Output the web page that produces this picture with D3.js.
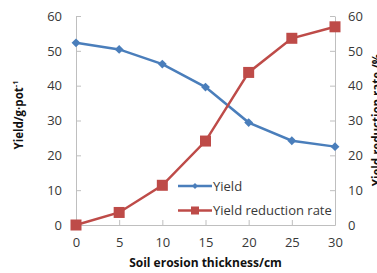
<!DOCTYPE html>
<html>
<head>
<meta charset="utf-8">
<script src="https://cdn.jsdelivr.net/npm/d3@7"></script>
<style>
  body { margin: 0; background: #fff; }
  svg { display: block; font-family: 'Open Sans', sans-serif; }
</style>
</head>
<body>
<svg width="377" height="273"></svg>
<script>
// data
const thickness = [0, 5, 10, 15, 20, 25, 30];
const yieldValues = [52.3, 50.4, 46.2, 39.6, 29.4, 24.2, 22.5];
const reductionRate = [0, 3.6, 11.4, 24.1, 43.8, 53.6, 56.9];
const yTicks = [0, 10, 20, 30, 40, 50, 60];

const svg = d3.select('svg');
const margin = { top: 16, right: 42, bottom: 48, left: 76 };
const width = +svg.attr('width');
const height = +svg.attr('height');
const innerWidth = width - margin.left - margin.right;
const innerHeight = height - margin.top - margin.bottom;

const axisColor = '#bfbfbf';
const textColor = '#383838';
const blue = '#4a7ebb';
const red = '#be4b48';

const g = svg.append('g').attr('transform', `translate(${margin.left},${margin.top})`);

const xScale = d3.scaleLinear().domain([0, 30]).range([0, innerWidth]);
const yLeft = d3.scaleLinear().domain([0, 60]).range([innerHeight, 0]);
const yRight = d3.scaleLinear().domain([0, 60]).range([innerHeight, 0]);

const styleAxis = (sel) => {
  sel.attr('font-family', null).attr('font-size', 13);
  sel.select('.domain').attr('stroke', axisColor).attr('stroke-width', 1);
  sel.selectAll('.tick line').attr('stroke', axisColor);
  sel.selectAll('.tick text').attr('fill', textColor);
};

// left axis, ticks drawn inward
g.append('g')
  .call(d3.axisLeft(yLeft).tickValues(yTicks).tickSizeInner(-5).tickSizeOuter(0).tickPadding(14))
  .call(styleAxis);

// right axis
g.append('g')
  .attr('transform', `translate(${innerWidth},0)`)
  .call(d3.axisRight(yRight).tickValues(yTicks).tickSizeInner(-5).tickSizeOuter(0).tickPadding(13))
  .call(styleAxis);

// bottom axis
g.append('g')
  .attr('transform', `translate(0,${innerHeight})`)
  .call(d3.axisBottom(xScale).tickValues(thickness).tickSizeInner(-5).tickSizeOuter(0).tickPadding(13))
  .call(styleAxis);

// axis titles
svg.append('text')
  .attr('x', margin.left + innerWidth / 2)
  .attr('y', 267)
  .attr('text-anchor', 'middle')
  .attr('font-size', 12)
  .attr('font-weight', 'bold')
  .attr('fill', '#111')
  .text('Soil erosion thickness/cm');

const leftTitle = svg.append('text')
  .attr('transform', 'translate(23,115) rotate(-90)')
  .attr('text-anchor', 'middle')
  .attr('font-size', 11.5)
  .attr('font-weight', 'bold')
  .attr('fill', '#111');
leftTitle.append('tspan').text('Yield/g·pot');
leftTitle.append('tspan').attr('font-size', 7.5).attr('dy', -5).text('-1');

svg.append('text')
  .attr('transform', 'translate(381,120) rotate(-90)')
  .attr('text-anchor', 'middle')
  .attr('font-size', 11.5)
  .attr('font-weight', 'bold')
  .attr('fill', '#111')
  .text('Yield reduction rate /%');

// lines
const yieldLine = d3.line()
  .x((d, i) => xScale(thickness[i]))
  .y((d) => yLeft(d));
const rateLine = d3.line()
  .x((d, i) => xScale(thickness[i]))
  .y((d) => yRight(d));

g.append('path')
  .datum(yieldValues)
  .attr('d', yieldLine)
  .attr('fill', 'none')
  .attr('stroke', blue)
  .attr('stroke-width', 2.5);

g.append('path')
  .datum(reductionRate)
  .attr('d', rateLine)
  .attr('fill', 'none')
  .attr('stroke', red)
  .attr('stroke-width', 2.5);

const diamond = d3.symbol().type(d3.symbolDiamond2).size(50);
const smallDiamond = d3.symbol().type(d3.symbolDiamond2).size(22);

g.selectAll('path.yield-marker')
  .data(yieldValues)
  .join('path')
  .attr('class', 'yield-marker')
  .attr('d', diamond)
  .attr('transform', (d, i) => `translate(${xScale(thickness[i])},${yLeft(d)})`)
  .attr('fill', blue);

const sq = 11;
g.selectAll('rect.rate-marker')
  .data(reductionRate)
  .join('rect')
  .attr('class', 'rate-marker')
  .attr('x', (d, i) => xScale(thickness[i]) - sq / 2)
  .attr('y', (d) => yRight(d) - sq / 2)
  .attr('width', sq)
  .attr('height', sq)
  .attr('fill', red);

// legend
const legendItems = [
  { label: 'Yield', color: blue, shape: 'diamond' },
  { label: 'Yield reduction rate', color: red, shape: 'square' }
];

const legend = svg.append('g').attr('transform', 'translate(178,186)');
const item = legend.selectAll('g.item')
  .data(legendItems)
  .join('g')
  .attr('class', 'item')
  .attr('transform', (d, i) => `translate(0,${i * 24.5})`);

item.append('line')
  .attr('x1', 0).attr('x2', 34)
  .attr('stroke', (d) => d.color)
  .attr('stroke-width', 2.5);

item.filter((d) => d.shape === 'diamond')
  .append('path')
  .attr('d', smallDiamond)
  .attr('transform', 'translate(17,0)')
  .attr('fill', (d) => d.color);

const lsq = 8;
item.filter((d) => d.shape === 'square')
  .append('rect')
  .attr('x', 17 - lsq / 2).attr('y', -lsq / 2)
  .attr('width', lsq).attr('height', lsq)
  .attr('fill', (d) => d.color);

item.append('text')
  .attr('x', 35)
  .attr('dy', '0.35em')
  .attr('font-size', 13)
  .attr('fill', textColor)
  .text((d) => d.label);
</script>
</body>
</html>
